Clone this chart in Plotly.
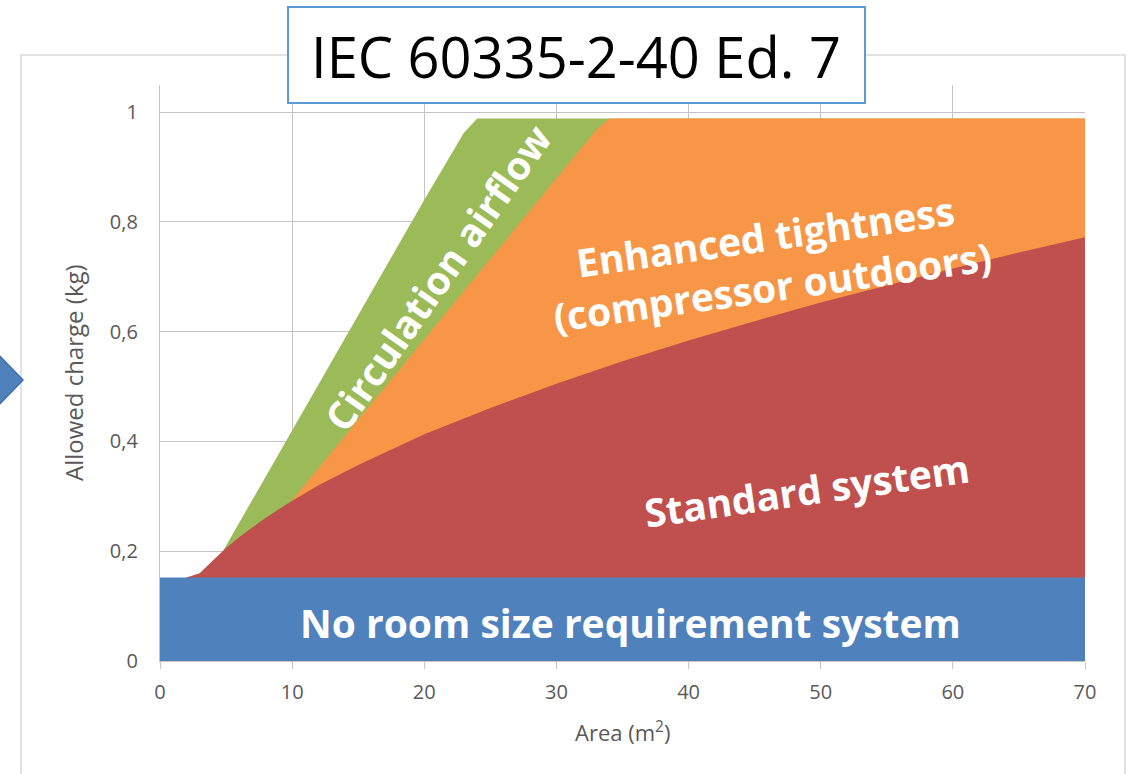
import plotly.graph_objects as go

# Allowed refrigerant charge (kg) vs room area (m²) for each system type
area_circulation = [0, 5, 10, 15, 20, 23, 24, 70]
charge_circulation = [0, 0.21, 0.42, 0.63, 0.84, 0.962, 0.988, 0.988]

area_tightness = [0, 10, 20, 30, 33, 34, 70]
charge_tightness = [0, 0.293, 0.586, 0.879, 0.967, 0.988, 0.988]

area_standard = [2, 3, 4, 5, 6, 7, 8, 10, 12, 15, 20, 25, 30, 35, 40, 45, 50, 55, 60, 65, 70]
charge_standard = [0.152, 0.160, 0.183, 0.206, 0.226, 0.244, 0.261, 0.292, 0.320, 0.357,
                   0.413, 0.461, 0.505, 0.546, 0.584, 0.619, 0.653, 0.684, 0.715, 0.744, 0.772]

area_no_req = [0, 70]
charge_no_req = [0.152, 0.152]

x_ticks = [0, 10, 20, 30, 40, 50, 60, 70]
x_tick_text = ["0", "10", "20", "30", "40", "50", "60", "70"]
y_ticks = [0, 0.2, 0.4, 0.6, 0.8, 1.0]
y_tick_text = ["0", "0,2", "0,4", "0,6", "0,8", "1"]

BLUE = "#4f81bd"
RED = "#c0504d"
GREEN = "#9bbb59"
ORANGE = "#f79646"
FONT = "Open Sans"
GRID = "#c4c4c4"

W, H = 1127, 774
L, R, T, B = 160, 42, 85, 113
PW, PH = W - L - R, H - T - B


def px(xp):
    return (xp - L) / PW


def py(yp):
    return (H - B - yp) / PH


fig = go.Figure()
for xs, ys, col in [
    (area_circulation, charge_circulation, GREEN),
    (area_tightness, charge_tightness, ORANGE),
    (area_standard, charge_standard, RED),
    (area_no_req, charge_no_req, BLUE),
]:
    fig.add_trace(go.Scatter(
        x=xs, y=ys, mode="lines", fill="tozeroy",
        line=dict(width=0, color=col), fillcolor=col,
        hoverinfo="skip", showlegend=False,
    ))

label_font = dict(family=FONT, size=39, color="white", weight="bold")
centered = dict(showarrow=False, xanchor="center", yanchor="middle")

annotations = [
    dict(x=35.6, y=0.071, xref="x", yref="y", text="No room size requirement system",
         font=label_font, **centered),
    dict(x=48.96, y=0.313, xref="x", yref="y", text="Standard system",
         font=label_font, textangle=-8, **centered),
    dict(x=46.1, y=0.728, xref="x", yref="y",
         text="Enhanced tightness<br>(compressor outdoors)",
         font=label_font, textangle=-8, **centered),
    dict(x=20.96, y=0.699, xref="x", yref="y", text="Circulation airflow",
         font=label_font, textangle=-55, **centered),
    dict(x=px(576), y=py(56), xref="paper", yref="paper", text="IEC 60335-2-40 Ed. 7",
         font=dict(family=FONT, size=56, color="black"), **centered),
    dict(x=px(73), y=py(373), xref="paper", yref="paper", text="Allowed charge (kg)",
         textangle=-90, font=dict(family=FONT, size=24, color="#595959"), **centered),
    dict(x=px(622), y=py(731), xref="paper", yref="paper", text="Area (m<sup>2</sup>)",
         font=dict(family=FONT, size=22, color="#595959"), **centered),
]

shapes = [
    # chart frame
    dict(type="rect", xref="paper", yref="paper",
         x0=px(21), x1=px(1125), y0=py(790), y1=py(55),
         line=dict(color="#d9d9d9", width=1.5), fillcolor="rgba(0,0,0,0)", layer="below"),
    # title box
    dict(type="rect", xref="paper", yref="paper",
         x0=px(288), x1=px(865), y0=py(103), y1=py(7),
         line=dict(color="#5b9bd5", width=2), fillcolor="white", layer="above"),
    # arrow tip at the left edge
    dict(type="path", xref="paper", yref="paper",
         path=f"M {px(-10)} {py(346)} L {px(23)} {py(380)} L {px(-10)} {py(414)} Z",
         line=dict(color="#3d6fa8", width=1.5), fillcolor=BLUE, layer="above"),
]

fig.update_layout(
    width=W, height=H,
    margin=dict(l=L, r=R, t=T, b=B),
    paper_bgcolor="white", plot_bgcolor="white",
    annotations=annotations, shapes=shapes,
    font=dict(family=FONT, color="#595959"),
)

fig.update_xaxes(
    range=[0, 70], tickvals=x_ticks, ticktext=x_tick_text,
    showgrid=True, gridcolor=GRID, gridwidth=1.3,
    showline=True, linecolor=GRID, linewidth=1.3,
    ticks="outside", ticklen=7, tickcolor=GRID, tickwidth=1.3,
    ticklabelstandoff=6,
    tickfont=dict(family=FONT, size=20, color="#595959"),
    zeroline=False, fixedrange=True,
)
fig.update_yaxes(
    range=[0, 576 / 549], tickvals=y_ticks, ticktext=y_tick_text,
    showgrid=True, gridcolor=GRID, gridwidth=1.3,
    showline=True, linecolor=GRID, linewidth=1.3,
    ticks="", ticklabelstandoff=17,
    tickfont=dict(family=FONT, size=20, color="#595959"),
    zeroline=False, fixedrange=True,
)

fig.write_html("out.html")
